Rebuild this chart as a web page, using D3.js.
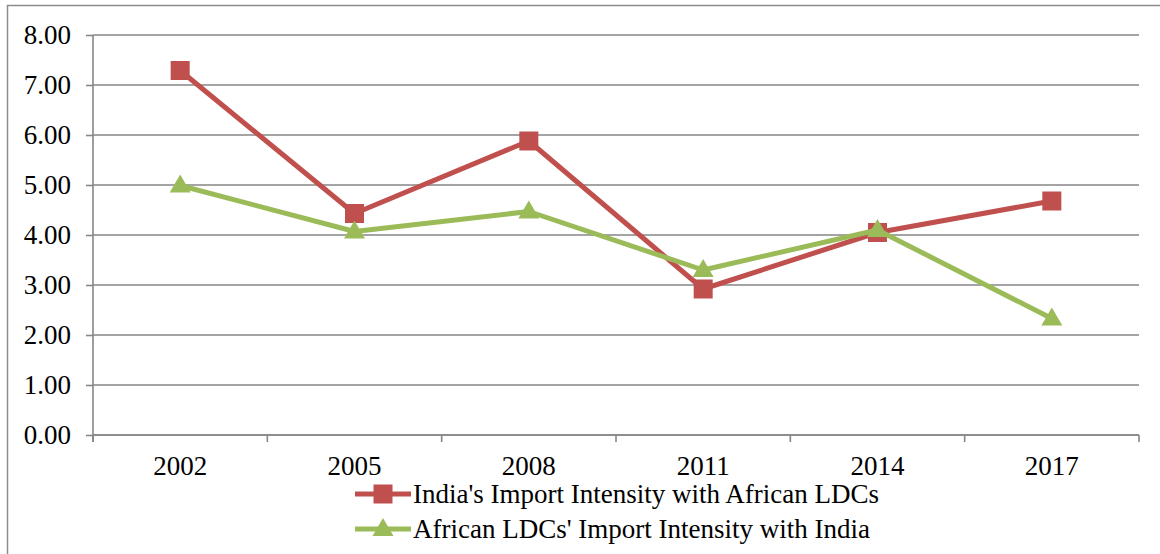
<!DOCTYPE html>
<html>
<head>
<meta charset="utf-8">
<script src="https://cdn.jsdelivr.net/npm/d3@7"></script>
<style>
  html, body { margin: 0; padding: 0; background: #fff; }
  svg { display: block; }
  text { font-family: "Liberation Serif", "Times New Roman", serif; fill: #000; }
</style>
</head>
<body>
<svg id="chart" width="1160" height="554"></svg>
<script>
// Years on the category axis
const years = ["2002", "2005", "2008", "2011", "2014", "2017"];
// India's import intensity with African LDCs
const indiaImport = [7.29, 4.43, 5.88, 2.92, 4.05, 4.68];
// African LDCs' import intensity with India
const africaImport = [4.99, 4.07, 4.47, 3.30, 4.10, 2.33];
// Value axis ticks
const yTicks = [0, 1, 2, 3, 4, 5, 6, 7, 8];
const seriesNames = [
  "India's Import Intensity with African LDCs",
  "African LDCs' Import Intensity with India"
];

const svg = d3.select("#chart");
const plot = { left: 93, right: 1139, top: 35, bottom: 435 };
const gridColor = "#868686";
const red = "#C0504D", green = "#9BBB59";
const fontSize = 27;

// Outer chart frame
svg.append("rect")
  .attr("x", 7.5).attr("y", 5.5)
  .attr("width", 1165).attr("height", 560)
  .attr("fill", "none").attr("stroke", "#8c8c8c").attr("stroke-width", 1.5);

const x = d3.scaleBand().domain(years).range([plot.left, plot.right]).padding(0);
const y = d3.scaleLinear().domain([0, 8]).range([plot.bottom, plot.top]);

// Horizontal gridlines
svg.append("g").selectAll("line").data(yTicks).join("line")
  .attr("x1", plot.left).attr("x2", plot.right)
  .attr("y1", d => y(d)).attr("y2", d => y(d))
  .attr("stroke", gridColor).attr("stroke-width", 1.6);

// Value axis
const yAxis = d3.axisLeft(y).tickValues(yTicks).tickFormat(d3.format(".2f"))
  .tickSize(7).tickPadding(15);
const gy = svg.append("g").attr("transform", `translate(${plot.left},0)`).call(yAxis);
gy.attr("font-size", fontSize).attr("font-family", "Liberation Serif");
gy.select(".domain").attr("stroke", gridColor).attr("stroke-width", 1.6)
  .attr("d", `M0,${plot.top}V${plot.bottom + 7}`);
gy.selectAll(".tick line").attr("stroke", gridColor).attr("stroke-width", 1.6);

// Category axis
const xAxis = d3.axisBottom(x).tickSize(0).tickPadding(21);
const gx = svg.append("g").attr("transform", `translate(0,${plot.bottom})`).call(xAxis);
gx.attr("font-size", fontSize).attr("font-family", "Liberation Serif");
gx.select(".domain").attr("stroke", gridColor).attr("stroke-width", 1.6)
  .attr("d", `M${plot.left},0H${plot.right}`);
// Tick marks on category boundaries
svg.append("g").selectAll("line").data(years.concat(["end"])).join("line")
  .attr("x1", (d, i) => plot.left + i * x.bandwidth())
  .attr("x2", (d, i) => plot.left + i * x.bandwidth())
  .attr("y1", plot.bottom).attr("y2", plot.bottom + 7)
  .attr("stroke", gridColor).attr("stroke-width", 1.6);

const cx = d => x(d) + x.bandwidth() / 2;
const line = d3.line().x(d => cx(d.year)).y(d => y(d.value));

const indiaData = years.map((yr, i) => ({ year: yr, value: indiaImport[i] }));
const africaData = years.map((yr, i) => ({ year: yr, value: africaImport[i] }));

const sq = 19;
const tri = d3.symbol().type(d3.symbolTriangle).size(190);

// India series
svg.append("path").datum(indiaData).attr("d", line)
  .attr("fill", "none").attr("stroke", red).attr("stroke-width", 5).attr("stroke-linejoin", "round");
svg.append("g").selectAll("rect").data(indiaData).join("rect")
  .attr("x", d => cx(d.year) - sq / 2).attr("y", d => y(d.value) - sq / 2)
  .attr("width", sq).attr("height", sq).attr("fill", red);

// African LDCs series
svg.append("path").datum(africaData).attr("d", line)
  .attr("fill", "none").attr("stroke", green).attr("stroke-width", 5).attr("stroke-linejoin", "round");
svg.append("g").selectAll("path").data(africaData).join("path")
  .attr("d", tri)
  .attr("transform", d => `translate(${cx(d.year)},${y(d.value) + 1})`)
  .attr("fill", green);

// Legend
const legend = svg.append("g");
const legendRows = [
  { name: seriesNames[0], color: red, marker: "square", y: 494 },
  { name: seriesNames[1], color: green, marker: "triangle", y: 529 }
];
legendRows.forEach(r => {
  legend.append("line").attr("x1", 355).attr("x2", 411)
    .attr("y1", r.y).attr("y2", r.y)
    .attr("stroke", r.color).attr("stroke-width", 5);
  if (r.marker === "square") {
    legend.append("rect").attr("x", 383 - sq / 2).attr("y", r.y - sq / 2)
      .attr("width", sq).attr("height", sq).attr("fill", r.color);
  } else {
    legend.append("path").attr("d", tri)
      .attr("transform", `translate(383,${r.y + 1})`).attr("fill", r.color);
  }
  legend.append("text").attr("x", 413).attr("y", r.y + 9)
    .attr("font-size", fontSize).text(r.name);
});
</script>
</body>
</html>
